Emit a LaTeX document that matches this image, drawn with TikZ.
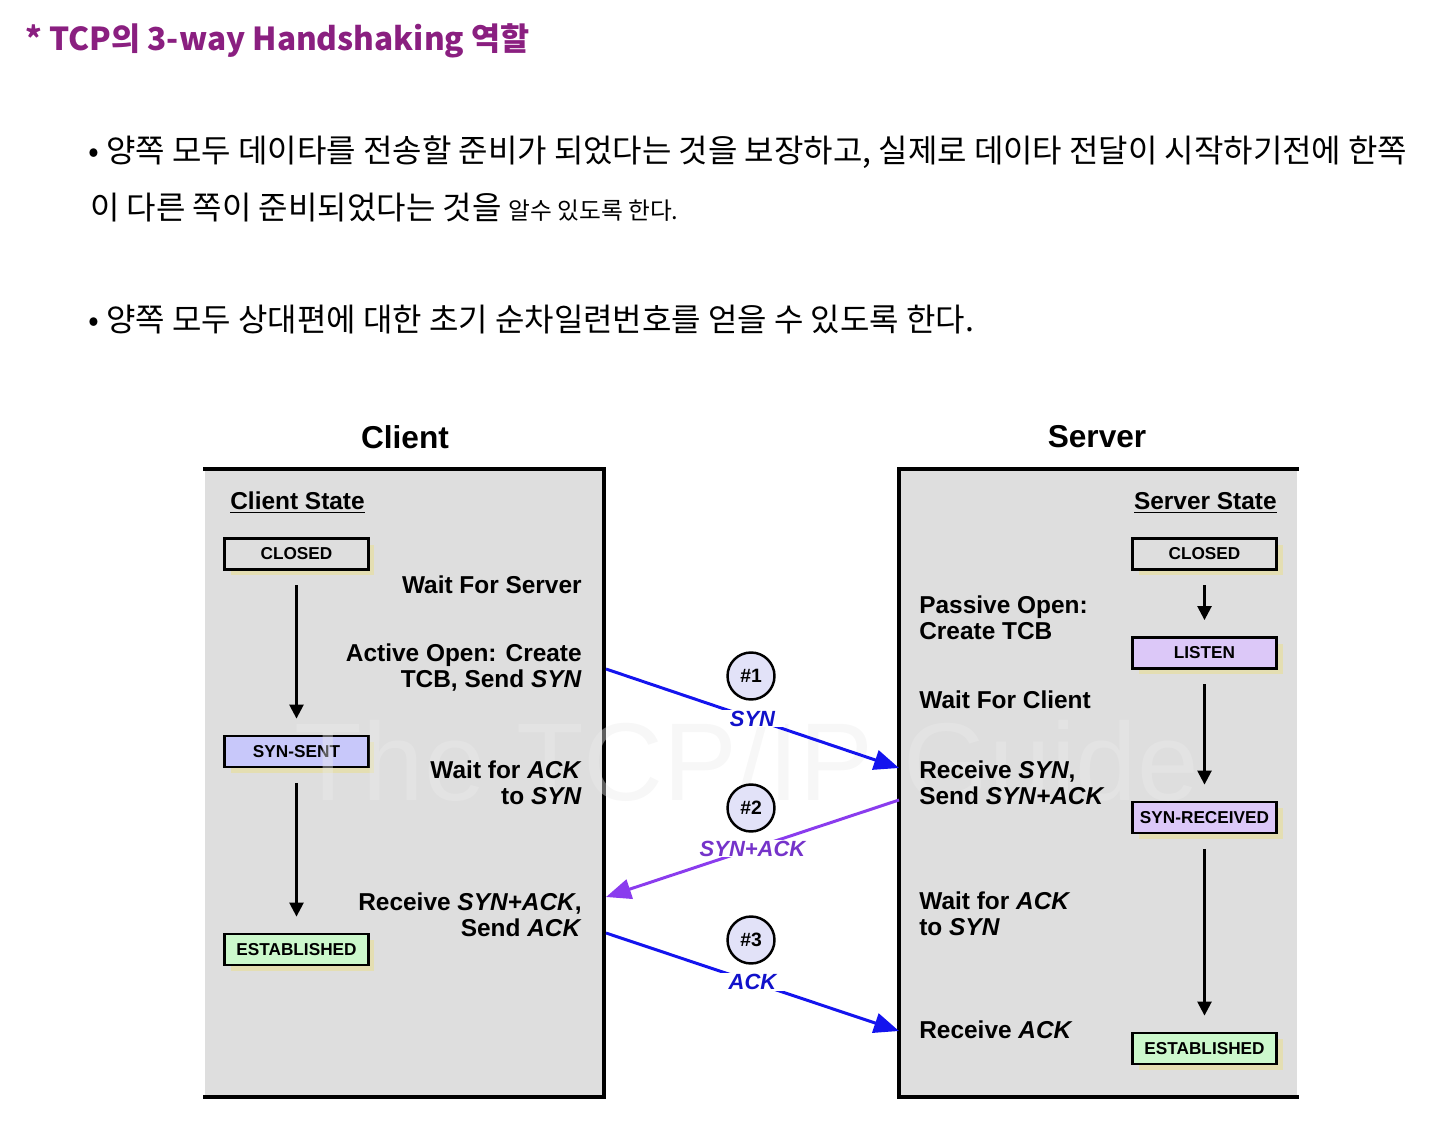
\documentclass[tikz,border=0pt]{standalone}
\usepackage{fontspec}
\setmainfont{Liberation Sans}
\newfontfamily\kr{Noto Sans CJK KR}
\usepackage{xcolor}
\usepackage{tikz}
\usetikzlibrary{arrows.meta,positioning,shadows}

\definecolor{titlepurple}{HTML}{8A1F80}
\definecolor{panelgray}{HTML}{DEDEDE}
\definecolor{shadowtan}{HTML}{E4DEB2}
\definecolor{sentblue}{HTML}{C8C8FA}
\definecolor{rcvviolet}{HTML}{DCC8F8}
\definecolor{estgreen}{HTML}{CCF8CC}
\definecolor{markfill}{HTML}{E2E2F8}
\definecolor{synblue}{HTML}{1414EE}
\definecolor{sapurple}{HTML}{8A3CEE}

\begin{document}
\begin{tikzpicture}[
  x=0.02cm,
  y=-0.02cm,
  rim/.style={line width=2.3pt,line cap=rect},
  statebox/.style={draw=black,line width=1.6pt,minimum width=2.88cm,minimum height=0.62cm,
    inner sep=0pt,font=\fontsize{9.8}{10}\selectfont\bfseries,
    drop shadow={shadow xshift=0.12cm,shadow yshift=-0.12cm,fill=shadowtan,opacity=1}},
  flow/.style={-{Triangle[length=0.28cm,width=0.28cm]},line width=1.4pt,
    shorten <=0.29cm,shorten >=0.32cm},
  msg/.style={-{Triangle[length=0.5cm,width=0.4cm]},line width=1.7pt},
  msglbl/.style={fill=white,inner xsep=0.2cm,inner ysep=0.02cm,
    font=\fontsize{12.5}{14}\selectfont\bfseries\itshape},
  seqmark/.style={circle,draw=black,line width=1.4pt,fill=markfill,minimum size=0.94cm,
    inner sep=0pt,font=\fontsize{11}{12}\selectfont\bfseries},
  lbl/.style={inner sep=0pt,font=\fontsize{13.9}{14.8}\selectfont\bfseries},
  head/.style={font=\fontsize{18}{20}\selectfont\bfseries},
  krtxt/.style={anchor=west,inner sep=0pt,font=\kr\fontsize{18.2}{20}\selectfont}
]
  \useasboundingbox (0,0) rectangle (1436,1124);

  % heading and bullets
  \node[anchor=west,inner sep=0pt,text=titlepurple,font=\kr\fontsize{18}{20}\selectfont\bfseries]
    (title) at (25,41) {* TCP의 3-way Handshaking 역할};
  \node[krtxt] (pointa) at (88,152)
    {• 양쪽 모두 데이타를 전송할 준비가 되었다는 것을 보장하고, 실제로 데이타 전달이 시작하기전에 한쪽};
  \node[krtxt] (pointb) at (90,208)
    {이 다른 쪽이 준비되었다는 것을 {\fontsize{13.5}{14}\selectfont 알수 있도록 한다.}};
  \node[krtxt] (pointc) at (88,320)
    {• 양쪽 모두 상대편에 대한 초기 순차일련번호를 얻을 수 있도록 한다.};

  % panels
  \fill[panelgray] (205,469) rectangle (604,1097);
  \fill[panelgray] (899,469) rectangle (1297,1097);
  \draw[rim] (205,469) -- (604,469) -- (604,1097) -- (205,1097);
  \draw[rim] (1297,469) -- (899,469) -- (899,1097) -- (1297,1097);
  \node[head] (client) at (405,437) {Client};
  \node[head] (server) at (1097,437) {Server};
  \node[lbl,anchor=west] (cstate) at (230,503) {\underline{Client State}};
  \node[lbl,anchor=east] (sstate) at (1277,503) {\underline{Server State}};

  % states
  \node[statebox,fill=panelgray] (cclosed) at (296.5,554) {CLOSED};
  \node[statebox,fill=sentblue] (csent) at (296.5,751.5) {SYN-SENT};
  \node[statebox,fill=estgreen] (cest) at (296.5,949.5) {ESTABLISHED};
  \node[statebox,fill=panelgray] (sclosed) at (1204.5,554) {CLOSED};
  \node[statebox,fill=rcvviolet] (slisten) at (1204.5,653) {LISTEN};
  \node[statebox,fill=rcvviolet] (srcvd) at (1204.5,817.5) {SYN-RECEIVED};
  \node[statebox,fill=estgreen] (sest) at (1204.5,1048.5) {ESTABLISHED};

  \node[anchor=base,inner sep=0pt,text=white!92!black,opacity=0.4,
    font=\fontsize{63}{70}\selectfont] (guide) at (747,800) {The TCP/IP Guide};

  \draw[flow] (cclosed) -- (csent);
  \draw[flow] (csent) -- (cest);
  \draw[flow] (sclosed) -- (slisten);
  \draw[flow] (slisten) -- (srcvd);
  \draw[flow] (srcvd) -- (sest);

  % client side notes
  \node[lbl,anchor=east] (cwait) at (582,585) {Wait For Server};
  \node[lbl,anchor=east,align=right] (copen) at (582,668) {Active Open: Create\\TCB, Send \textit{SYN}};
  \node[lbl,anchor=east,align=right] (cack) at (582,783) {Wait for \textit{ACK}\\to \textit{SYN}};
  \node[lbl,anchor=east,align=right] (crecv) at (582,915) {Receive \textit{SYN+ACK},\\Send \textit{ACK}};

  % server side notes
  \node[lbl,anchor=west,align=left] (spass) at (919,618) {Passive Open:\\Create TCB};
  \node[lbl,anchor=west] (swait) at (919,700) {Wait For Client};
  \node[lbl,anchor=west,align=left] (srecv) at (919,783) {Receive \textit{SYN},\\Send \textit{SYN+ACK}};
  \node[lbl,anchor=west,align=left] (sack) at (919,914) {Wait for \textit{ACK}\\to \textit{SYN}};
  \node[lbl,anchor=west] (sfin) at (919,1030) {Receive \textit{ACK}};

  % handshake
  \coordinate (synA) at (606,669);
  \coordinate (synB) at (899,768);
  \coordinate (saA) at (899,800);
  \coordinate (saB) at (606,897);
  \coordinate (ackA) at (606,933);
  \coordinate (ackB) at (899,1031);
  \draw[msg,synblue] (synA) -- node[msglbl,text=synblue!85!black] (synlbl) {SYN} (synB);
  \draw[msg,sapurple] (saA) -- node[msglbl,text=sapurple!85!black] (salbl) {SYN+ACK} (saB);
  \draw[msg,synblue] (ackA) -- node[msglbl,text=synblue!85!black] (acklbl) {ACK} (ackB);
  \node[seqmark] (one) at (751,676) {\#1};
  \node[seqmark] (two) at (751,808) {\#2};
  \node[seqmark] (three) at (751,940) {\#3};
\end{tikzpicture}
\end{document}
